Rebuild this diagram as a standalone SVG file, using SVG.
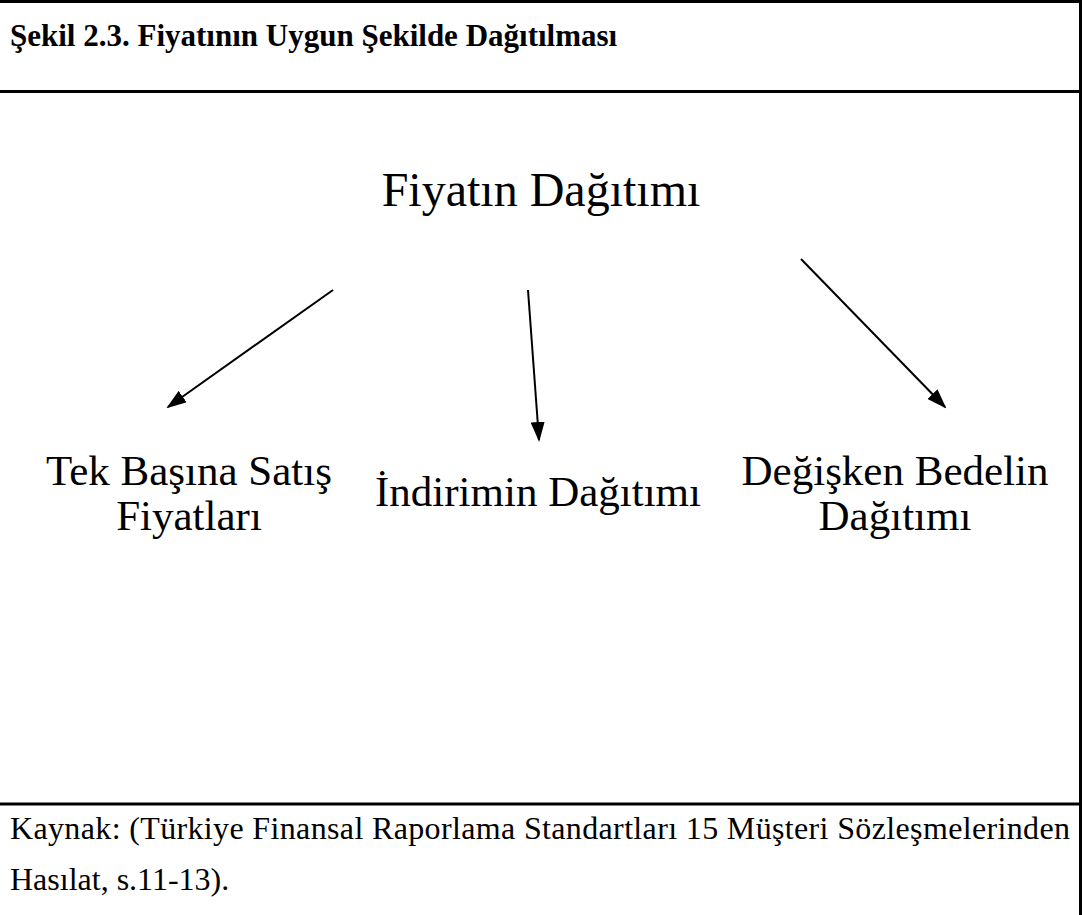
<svg xmlns="http://www.w3.org/2000/svg" width="1082" height="915" viewBox="0 0 1082 915">
<style>
.frame{stroke:#000;stroke-width:3;fill:none}
.t{font-family:"Liberation Serif","Times New Roman",serif;fill:#000}
.title{font-size:31px;font-weight:bold}
.main{font-size:48px}
.lab{font-size:43px}
.src{font-size:32px}
.conn{stroke:#000;stroke-width:2;fill:none;marker-end:url(#ah)}
</style>
<defs>
<marker id="ah" viewBox="0 0 20 14" refX="18" refY="7" markerWidth="20" markerHeight="14" markerUnits="userSpaceOnUse" orient="auto">
<path d="M0,0 L20,7 L0,14 Z" fill="#000"/>
</marker>
</defs>
<rect width="1082" height="915" fill="#fff"/>
<g id="frame">
<line class="frame" x1="0" y1="1.5" x2="1082" y2="1.5"/>
<line class="frame" x1="1080.5" y1="0" x2="1080.5" y2="915"/>
<line class="frame" x1="0" y1="91.5" x2="1082" y2="91.5"/>
<line class="frame" x1="0" y1="804" x2="1082" y2="804"/>
</g>
<g id="title"><text class="t title" x="10" y="46">Şekil 2.3. Fiyatının Uygun Şekilde Dağıtılması</text></g>
<g id="root"><text class="t main" x="541" y="206" text-anchor="middle">Fiyatın Dağıtımı</text></g>
<g id="n1"><text class="t lab" x="189" y="485" text-anchor="middle">Tek Başına Satış</text><text class="t lab" x="189" y="530" text-anchor="middle">Fiyatları</text></g>
<g id="n2"><text class="t lab" x="538" y="506" text-anchor="middle">İndirimin Dağıtımı</text></g>
<g id="n3"><text class="t lab" x="895" y="485" text-anchor="middle">Değişken Bedelin</text><text class="t lab" x="895" y="530" text-anchor="middle">Dağıtımı</text></g>
<g id="connectors">
<line class="conn" x1="333" y1="290" x2="168" y2="407"/>
<line class="conn" x1="528" y1="290" x2="539" y2="440"/>
<line class="conn" x1="801" y1="259" x2="945" y2="407"/>
</g>
<g id="source">
<text class="t src" x="10" y="839" textLength="1060" lengthAdjust="spacing">Kaynak: (Türkiye Finansal Raporlama Standartları 15 Müşteri Sözleşmelerinden</text>
<text class="t src" x="10" y="890">Hasılat, s.11-13).</text>
</g>
</svg>
